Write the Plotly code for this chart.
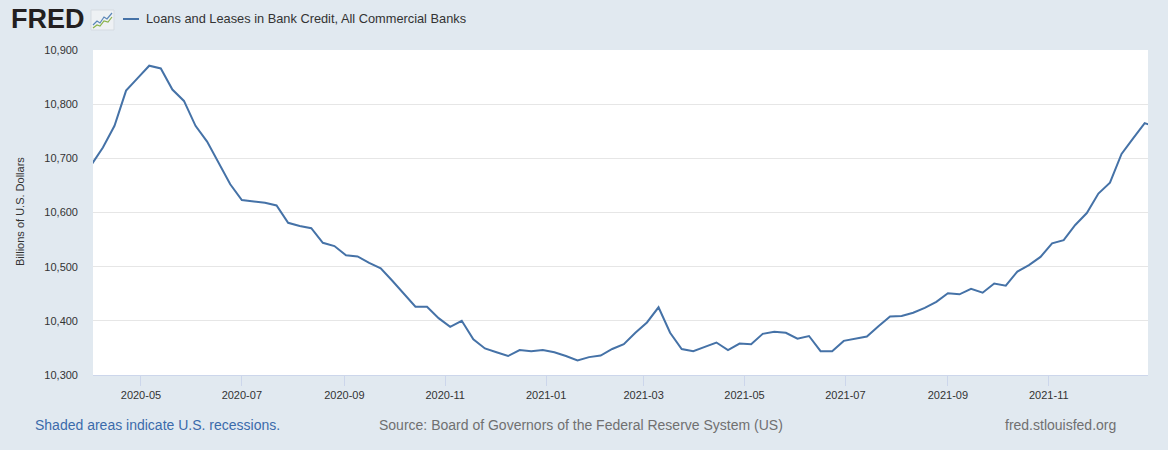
import pandas as pd
import plotly.graph_objects as go

# ---- data (weekly, Wednesdays) ----
start_date = "2020-04-01"
values = [
    10688, 10720, 10760, 10825, 10848, 10871, 10866, 10827, 10806, 10760,
    10731, 10691, 10652, 10623, 10621, 10618, 10613, 10581, 10575, 10571,
    10544, 10538, 10521, 10519, 10507, 10497, 10474, 10450, 10426, 10426,
    10405, 10389, 10400, 10366, 10349, 10342, 10335, 10346, 10344, 10346,
    10342, 10335, 10327, 10333, 10336, 10348, 10357, 10378, 10397, 10425,
    10378, 10348, 10344, 10352, 10360, 10346, 10358, 10357, 10376, 10380,
    10378, 10367, 10372, 10344, 10344, 10363, 10367, 10371, 10390, 10408,
    10409, 10415, 10424, 10435, 10451, 10449, 10459, 10452, 10469, 10465,
    10491, 10503, 10518, 10543, 10549, 10577, 10599, 10635, 10655, 10708,
    10737, 10765, 10758,
]
dates = pd.date_range(start_date, periods=len(values), freq="7D")
series_name = "Loans and Leases in Bank Credit, All Commercial Banks"
y_title = "Billions of U.S. Dollars"
x_range = ["2020-04-02", "2021-12-31"]
y_range = [10300, 10900]

# ---- geometry helpers (pixel -> paper) ----
W, H = 1168, 450
L, R, T, B = 93, 1148, 50, 375


def px(x):
    return (x - L) / (R - L)


def py(y):
    return (B - y) / (B - T)


LINE = "#4572a7"
BG = "#e1e9f0"
FONT = "Liberation Sans, Arial, sans-serif"

fig = go.Figure()
fig.add_trace(go.Scatter(
    x=dates, y=values, mode="lines", name=series_name,
    line=dict(color=LINE, width=2), showlegend=False,
))

fig.update_layout(
    width=W, height=H,
    margin=dict(l=L, r=W - R, t=T, b=H - B, autoexpand=False),
    paper_bgcolor=BG, plot_bgcolor="white",
    font=dict(family=FONT, size=11, color="#333333"),
    xaxis=dict(
        range=x_range, type="date",
        tick0="2020-05-01", dtick="M2", tickformat="%Y-%m",
        ticks="outside", ticklen=10, tickcolor="#ccd6eb", tickwidth=1,
        showline=True, linecolor="#ccd6eb", linewidth=1,
        showgrid=False, zeroline=False,
        tickfont=dict(size=11, color="#333333"),
    ),
    yaxis=dict(
        range=y_range, dtick=100, tickformat=",",
        showgrid=True, gridcolor="#e6e6e6", gridwidth=1,
        zeroline=False, showline=False, ticks="",
        ticklabelstandoff=14,
        tickfont=dict(size=11, color="#333333"),
    ),
)

annotations = [
    # y title
    dict(x=px(20), y=py(212), text=y_title, textangle=-90, showarrow=False,
         xref="paper", yref="paper", xanchor="center", yanchor="middle",
         font=dict(size=11, color="#333333")),
    # FRED logo text
    dict(x=px(9), y=py(19), text="<b>FRED</b>", showarrow=False,
         xref="paper", yref="paper", xanchor="left", yanchor="middle",
         font=dict(family="Liberation Sans, Arial", size=27, color="#231f20")),
    # legend label
    dict(x=px(144), y=py(19), text=series_name, showarrow=False,
         xref="paper", yref="paper", xanchor="left", yanchor="middle",
         font=dict(size=12.8, color="#333333")),
    # footer
    dict(x=px(33), y=py(425), text="Shaded areas indicate U.S. recessions.",
         showarrow=False, xref="paper", yref="paper", xanchor="left", yanchor="middle",
         font=dict(size=14, color="#3b6bab")),
    dict(x=px(377), y=py(425), text="Source: Board of Governors of the Federal Reserve System (US)",
         showarrow=False, xref="paper", yref="paper", xanchor="left", yanchor="middle",
         font=dict(size=14, color="#707070")),
    dict(x=px(1118), y=py(425), text="fred.stlouisfed.org",
         showarrow=False, xref="paper", yref="paper", xanchor="right", yanchor="middle",
         font=dict(size=14, color="#707070")),
]
fig.update_layout(annotations=annotations)

shapes = [
    # legend line sample
    dict(type="line", xref="paper", yref="paper",
         x0=px(123), x1=px(139), y0=py(19), y1=py(19),
         line=dict(color=LINE, width=2)),
    # FRED icon box
    dict(type="rect", xref="paper", yref="paper",
         x0=px(91), x1=px(114), y0=py(30), y1=py(10),
         fillcolor="#eef1f4", line=dict(color="#d5dbe1", width=1)),
    dict(type="path", xref="paper", yref="paper",
         path=f"M {px(93)},{py(25)} L {px(97)},{py(21)} L {px(100)},{py(23)} L {px(104)},{py(17)} L {px(107)},{py(19)} L {px(112)},{py(13)}",
         line=dict(color="#5b86b8", width=1.2)),
    dict(type="path", xref="paper", yref="paper",
         path=f"M {px(93)},{py(28)} L {px(97)},{py(25)} L {px(100)},{py(26)} L {px(104)},{py(21)} L {px(108)},{py(22)} L {px(112)},{py(17)}",
         line=dict(color="#8ab34a", width=1.2)),
]
fig.update_layout(shapes=shapes)

fig.write_html(
    "out.html",
    config={"displayModeBar": False},
    post_script="document.body.style.margin='0';document.body.style.padding='0';document.body.style.overflow='hidden';",
)
